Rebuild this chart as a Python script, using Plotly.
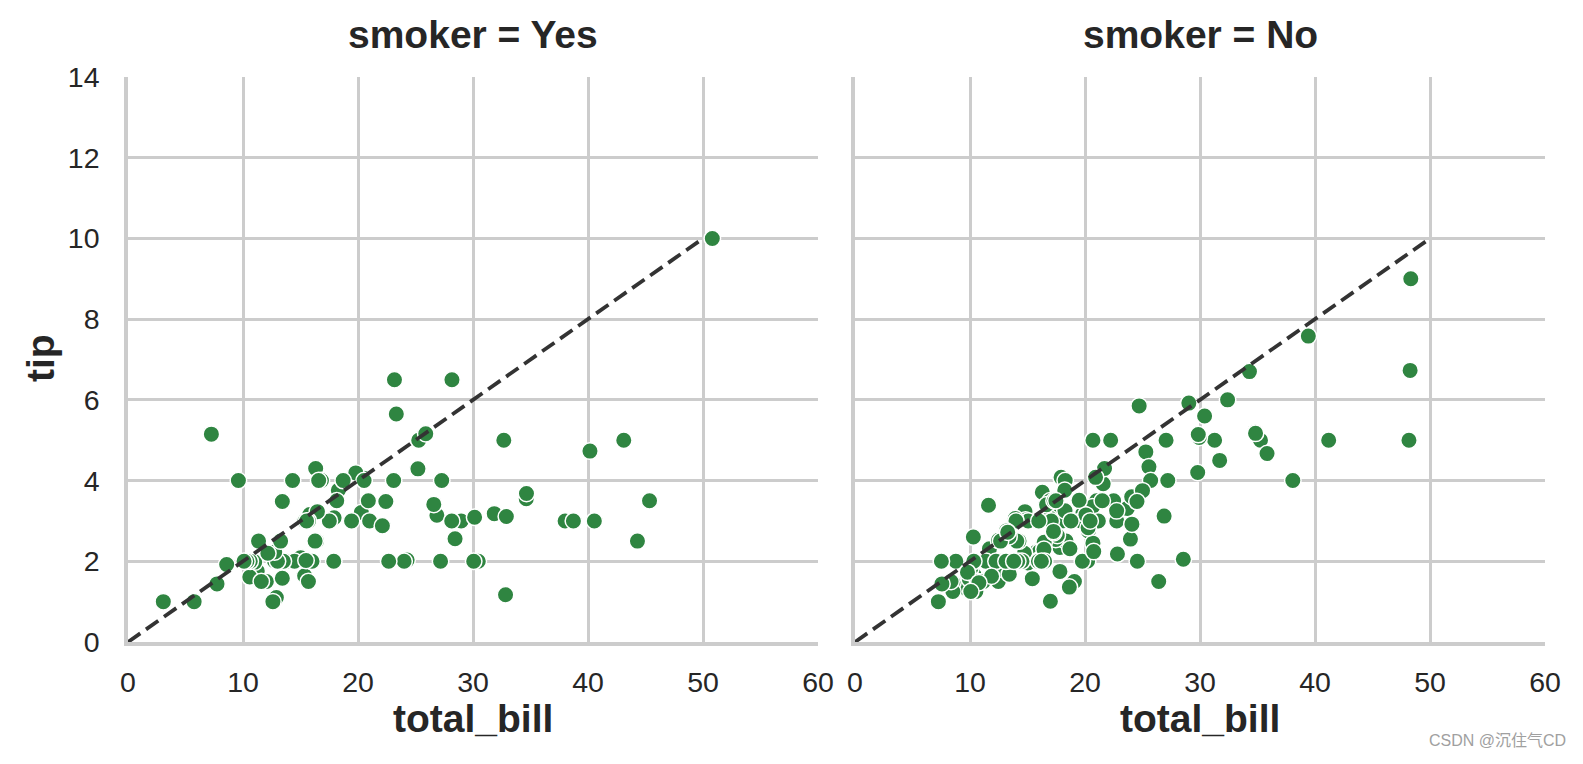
import plotly.graph_objects as go

# smoker = Yes
yes_bill = [38.01, 11.24, 20.29, 13.81, 11.02, 18.29, 3.07, 15.01, 26.86, 25.28,
            17.92, 19.44, 32.68, 28.97, 5.75, 16.32, 40.17, 27.28, 12.03, 21.01,
            11.35, 15.38, 44.3, 22.42, 15.36, 20.49, 25.21, 14.31, 16.0, 17.51,
            10.59, 10.63, 50.81, 15.81, 7.25, 31.85, 16.82, 32.9, 17.89, 14.48,
            9.6, 34.63, 34.65, 23.33, 45.35, 23.17, 40.55, 20.9, 30.46, 18.15,
            23.1, 15.69, 19.81, 28.44, 15.48, 16.58, 10.34, 43.11, 13.0, 13.51,
            18.71, 12.74, 13.0, 16.4, 20.53, 16.47, 26.59, 38.73, 24.27, 12.76,
            30.06, 25.89, 13.27, 28.17, 12.9, 28.15, 11.59, 7.74, 30.14, 12.16,
            13.42, 8.58, 13.42, 16.27, 10.09, 22.12, 24.01, 15.69, 15.53, 12.6,
            32.83, 27.18, 22.67]
yes_tip = [3.0, 1.76, 3.21, 2.0, 1.98, 3.76, 1.0, 2.09, 3.14, 5.0,
           3.08, 3.0, 5.0, 3.0, 1.0, 4.3, 4.73, 4.0, 1.5, 3.0,
           2.5, 3.0, 2.5, 3.48, 1.64, 4.06, 4.29, 4.0, 2.0, 3.0,
           1.61, 2.0, 10.0, 3.16, 5.15, 3.18, 4.0, 3.11, 2.0, 2.0,
           4.0, 3.55, 3.68, 5.65, 3.5, 6.5, 3.0, 3.5, 2.0, 3.5,
           4.0, 1.5, 4.19, 2.56, 2.02, 4.0, 2.0, 5.0, 2.0, 2.0,
           4.0, 2.01, 2.0, 2.5, 4.0, 3.23, 3.41, 3.0, 2.03, 2.23,
           2.0, 5.16, 2.5, 6.5, 1.1, 3.0, 1.5, 1.44, 3.09, 2.2,
           3.48, 1.92, 1.58, 2.5, 2.0, 2.88, 2.0, 3.0, 3.0, 1.0,
           1.17, 2.0, 2.0]

# smoker = No
no_bill = [16.99, 10.34, 21.01, 23.68, 24.59, 25.29, 8.77, 26.88, 15.04, 14.78,
           10.27, 35.26, 15.42, 18.43, 14.83, 21.58, 10.33, 16.29, 16.97, 20.65,
           17.92, 20.29, 15.77, 39.42, 19.82, 17.81, 13.37, 12.69, 21.7, 19.65,
           9.55, 18.35, 15.06, 20.69, 17.78, 24.06, 16.31, 16.93, 18.69, 31.27,
           16.04, 17.46, 13.94, 9.68, 30.4, 18.29, 22.23, 32.4, 28.55, 18.04,
           12.54, 10.29, 34.81, 9.94, 25.56, 19.49, 26.41, 48.27, 17.59, 20.08,
           16.45, 20.23, 12.02, 17.07, 14.73, 10.51, 27.2, 22.76, 17.29, 16.66,
           10.07, 15.98, 34.83, 13.03, 18.28, 24.71, 21.16, 22.49, 22.75, 12.46,
           20.92, 18.24, 14.0, 7.25, 38.07, 23.95, 25.71, 17.31, 29.93, 10.65,
           12.43, 24.08, 11.69, 13.42, 14.26, 15.95, 12.48, 29.8, 8.52, 14.52,
           11.38, 22.82, 19.08, 20.27, 11.17, 12.26, 18.26, 8.51, 10.33, 14.15,
           13.16, 17.47, 34.3, 41.19, 27.05, 16.43, 8.35, 18.64, 11.87, 9.78,
           7.51, 14.07, 13.13, 17.26, 24.55, 19.77, 29.85, 48.17, 25.0, 13.39,
           16.49, 21.5, 12.66, 16.21, 13.81, 24.52, 20.76, 31.71, 20.69, 7.56,
           48.33, 15.98, 20.45, 13.28, 11.61, 10.77, 10.07, 35.83, 29.03, 17.82,
           18.78]
no_tip = [1.01, 1.66, 3.5, 3.31, 3.61, 4.71, 2.0, 3.12, 1.96, 3.23,
          1.71, 5.0, 1.57, 3.0, 3.02, 3.92, 1.67, 3.71, 3.5, 3.35,
          4.08, 2.75, 2.23, 7.58, 3.18, 2.34, 2.0, 2.0, 4.3, 3.0,
          1.45, 2.5, 3.0, 2.45, 3.27, 3.6, 2.0, 3.07, 2.31, 5.0,
          2.24, 2.54, 3.06, 1.32, 5.6, 3.0, 5.0, 6.0, 2.05, 3.0,
          2.5, 2.6, 5.2, 1.56, 4.34, 3.51, 1.5, 6.73, 2.64, 3.15,
          2.47, 2.01, 1.97, 3.0, 2.2, 1.25, 4.0, 3.0, 2.71, 3.4,
          1.83, 2.03, 5.17, 2.0, 4.0, 5.85, 3.0, 3.5, 3.25, 1.5,
          4.08, 3.76, 3.0, 1.0, 4.0, 2.55, 4.0, 3.5, 5.07, 1.5,
          1.8, 2.92, 2.31, 1.68, 2.5, 2.0, 2.52, 4.2, 1.48, 2.0,
          2.0, 2.18, 1.5, 2.83, 1.5, 2.0, 3.25, 1.25, 2.0, 2.0,
          2.75, 3.5, 6.7, 5.0, 5.0, 2.3, 1.5, 1.36, 1.63, 1.73,
          2.0, 2.5, 2.0, 2.74, 2.0, 2.0, 5.14, 5.0, 3.75, 2.61,
          2.0, 3.5, 2.5, 2.0, 2.0, 3.48, 2.24, 4.5, 5.0, 1.44,
          9.0, 3.0, 3.0, 2.72, 3.39, 1.47, 1.25, 4.67, 5.92, 1.75,
          3.0]

ref_x = [0, 50]
ref_y = [0, 10]

panel_titles = ["smoker = Yes", "smoker = No"]
x_ticks = [0, 10, 20, 30, 40, 50, 60]
y_ticks = [0, 2, 4, 6, 8, 10, 12, 14]

FONT = "Liberation Sans, Arial, sans-serif"
TXT = "#262626"
GRID = "#cccccc"
GREEN = "#2f8541"

W, H = 1583, 764
dom1 = [128 / W, 818 / W]
dom2 = [855 / W, 1545 / W]
ydom = [1 - 642 / H, 1 - 77 / H]

fig = go.Figure()
for i, (bx, ty) in enumerate([(yes_bill, yes_tip), (no_bill, no_tip)]):
    xa = "x" if i == 0 else "x2"
    ya = "y" if i == 0 else "y2"
    fig.add_trace(go.Scatter(
        x=bx, y=ty, mode="markers", xaxis=xa, yaxis=ya,
        marker=dict(color=GREEN, size=16.5, line=dict(color="white", width=1.5)),
        showlegend=False, hoverinfo="x+y"))
    fig.add_trace(go.Scatter(
        x=ref_x, y=ref_y, mode="lines", xaxis=xa, yaxis=ya,
        line=dict(color="#333333", width=3.8, dash="15px,7px"),
        showlegend=False, hoverinfo="skip"))

axis_common = dict(
    showgrid=True, gridcolor=GRID, gridwidth=2.5,
    showline=True, linecolor=GRID, linewidth=3.5,
    zeroline=False, ticks="", tickfont=dict(family=FONT, size=28.5, color=TXT),
    layer="below traces", automargin=False,
)
fig.update_layout(
    width=W, height=H,
    margin=dict(l=0, r=0, t=0, b=0),
    paper_bgcolor="white", plot_bgcolor="white",
    xaxis=dict(domain=dom1, range=[0, 60], tickvals=x_ticks, anchor="y",
               ticklabelstandoff=12, **axis_common),
    yaxis=dict(domain=ydom, range=[0, 14], tickvals=y_ticks, anchor="x",
               ticklabelstandoff=19, **axis_common),
    xaxis2=dict(domain=dom2, range=[0, 60], tickvals=x_ticks, anchor="y2",
                ticklabelstandoff=12, **axis_common),
    yaxis2=dict(domain=ydom, range=[0, 14], tickvals=y_ticks, anchor="x2",
                matches="y", showticklabels=False, **axis_common),
)

ann = []
for dom, t in zip([dom1, dom2], panel_titles):
    cx = (dom[0] + dom[1]) / 2
    ann.append(dict(text="<b>%s</b>" % t, x=cx, y=1 - 35 / H, xref="paper", yref="paper",
                    xanchor="center", yanchor="middle", showarrow=False,
                    font=dict(family=FONT, size=39, color=TXT)))
    ann.append(dict(text="<b>total_bill</b>", x=cx, y=1 - 718 / H, xref="paper", yref="paper",
                    xanchor="center", yanchor="middle", showarrow=False,
                    font=dict(family=FONT, size=39, color=TXT)))
ann.append(dict(text="<b>tip</b>", x=40 / W, y=1 - 358 / H, xref="paper", yref="paper",
                xanchor="center", yanchor="middle", showarrow=False, textangle=-90,
                font=dict(family=FONT, size=39, color=TXT)))
ann.append(dict(text="CSDN @沉住气CD", x=1568 / W, y=1 - 740 / H, xref="paper", yref="paper",
                xanchor="right", yanchor="middle", showarrow=False,
                font=dict(family="Liberation Sans, Noto Sans CJK SC, sans-serif", size=16, color="#a0a0a0")))
fig.update_layout(annotations=ann)

fig.write_html("out.html")
